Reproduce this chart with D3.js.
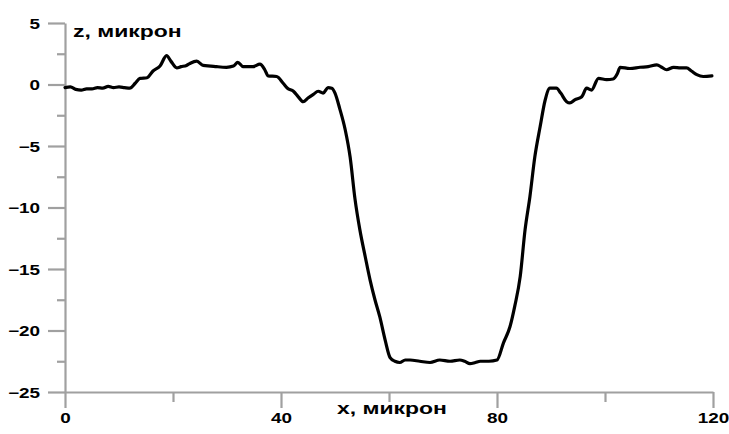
<!DOCTYPE html>
<html>
<head>
<meta charset="utf-8">
<script src="https://cdn.jsdelivr.net/npm/d3@7"></script>
<style>
  body { margin: 0; background: #fff; }
  svg { display: block; }
  text { font-family: "Liberation Sans", Arial, sans-serif; font-weight: bold; fill: #000; }
</style>
</head>
<body>
<div id="result"></div>
<script>
const width = 729;
const height = 434;

// profile: x (micron) and z (micron)
const xVals = [0, 1, 2, 3, 4, 5, 6, 7, 8, 9, 10, 11, 12, 13, 13.9, 15.2, 16.3, 17.6, 18.8, 19.6,
  20.7, 21.5, 22.5, 23.1, 24.4, 25.6, 27, 28.1, 29.9, 31.2, 32, 33, 34.8, 36.1, 37, 37.6, 39.2,
  40.4, 41.2, 42.3, 43.2, 44.1, 45, 46, 46.9, 47.8, 48.7, 49.4, 50, 50.9, 51.9, 52.8, 53.7, 54.6,
  55.6, 56.5, 57.4, 58.3, 59.3, 60.2, 61.1, 62, 63, 63.9, 65.7, 67.6, 69.4, 71.3, 73.1, 74, 75,
  76, 76.9, 78.5, 80, 81.2, 82.4, 83.3, 84.3, 85.2, 86.1, 87, 88, 88.9, 89.8, 91, 91.8, 92.9,
  93.5, 94.4, 95.7, 96.6, 97.5, 98.8, 100.3, 101.5, 102.3, 102.8, 104.6, 106.5, 108, 109.6,
  110.5, 111.4, 112.7, 114, 115.1, 116, 117, 118.2, 119.8];
const zVals = [-0.25, -0.2, -0.4, -0.45, -0.35, -0.35, -0.25, -0.3, -0.15, -0.25, -0.2, -0.25, -0.3,
  0.1, 0.5, 0.55, 1.1, 1.5, 2.35, 1.9, 1.35, 1.45, 1.55, 1.7, 1.9, 1.55, 1.5, 1.45, 1.4, 1.5,
  1.8, 1.45, 1.45, 1.65, 1.2, 0.7, 0.65, 0.1, -0.3, -0.55, -1.0, -1.4, -1.1, -0.8, -0.55, -0.7,
  -0.25, -0.3, -0.7, -2.0, -3.7, -5.9, -9.3, -11.8, -14, -15.9, -17.5, -18.9, -20.8, -22.2,
  -22.5, -22.6, -22.4, -22.4, -22.5, -22.6, -22.4, -22.5, -22.4, -22.5, -22.7, -22.6, -22.5,
  -22.5, -22.4, -21, -19.7, -18, -15.6, -11.8, -9.1, -5.9, -3.4, -1.3, -0.3, -0.3, -0.7, -1.4,
  -1.5, -1.25, -1.0, -0.3, -0.45, 0.5, 0.4, 0.45, 0.9, 1.4, 1.3, 1.4, 1.45, 1.6, 1.4, 1.2, 1.4,
  1.35, 1.35, 1.1, 0.8, 0.65, 0.7];

const xMajor = [0, 40, 80, 120];
const xMinor = [20, 60, 100];
const yMajor = [5, 0, -5, -10, -15, -20, -25];
const yMinor = [2.5, -2.5, -7.5, -12.5, -17.5, -22.5];
const xLabel = 'x, микрон';
const yLabel = 'z, микрон';

const axisColor = '#a0a0a0';
const stretch = 1.35; // the picture's text is wide

const svg = d3.select('#result')
  .append('svg')
  .attr('width', width)
  .attr('height', height);

const xScale = d3.scaleLinear().domain([0, 120]).range([65, 713]);
const yScale = d3.scaleLinear().domain([-25, 5]).range([392, 23]);

// y axis, major and minor ticks
const yAxisG = svg.append('g')
  .attr('transform', `translate(${xScale(0)},0)`)
  .call(d3.axisLeft(yScale).tickValues(yMajor).tickSize(17).tickSizeOuter(0).tickFormat(d3.format('d')));
svg.append('g')
  .attr('transform', `translate(${xScale(0)},0)`)
  .call(d3.axisLeft(yScale).tickValues(yMinor).tickSize(8).tickFormat(''))
  .select('.domain').remove();

// x axis at the bottom of the frame
const xAxisG = svg.append('g')
  .attr('transform', `translate(0,${yScale(-25)})`)
  .call(d3.axisBottom(xScale).tickValues(xMajor).tickSize(16).tickSizeOuter(0).tickFormat(d3.format('d')));
svg.append('g')
  .attr('transform', `translate(0,${yScale(-25)})`)
  .call(d3.axisBottom(xScale).tickValues(xMinor).tickSize(10).tickFormat(''))
  .select('.domain').remove();

svg.selectAll('.domain, .tick line')
  .attr('stroke', axisColor)
  .attr('stroke-width', 2.2);

// tick labels
yAxisG.selectAll('.tick text')
  .attr('x', null)
  .attr('dy', null)
  .attr('text-anchor', 'end')
  .attr('font-size', 14)
  .attr('font-family', null)
  .attr('transform', `translate(-25,5) scale(${stretch},1)`);

xAxisG.selectAll('.tick text')
  .attr('y', null)
  .attr('dy', null)
  .attr('text-anchor', 'middle')
  .attr('font-size', 14)
  .attr('font-family', null)
  .attr('transform', `translate(0,31) scale(${stretch},1)`);

// axis titles
svg.append('text')
  .attr('transform', `translate(73,37) scale(${stretch},1)`)
  .attr('font-size', 17)
  .text(yLabel);

svg.append('text')
  .attr('transform', `translate(392,414) scale(${stretch},1)`)
  .attr('text-anchor', 'middle')
  .attr('font-size', 17)
  .text(xLabel);

// the profile
const line = d3.line()
  .x(d => xScale(d[0]))
  .y(d => yScale(d[1]))
  .curve(d3.curveMonotoneX);

svg.append('path')
  .datum(d3.zip(xVals, zVals))
  .attr('fill', 'none')
  .attr('stroke', '#000')
  .attr('stroke-width', 3.2)
  .attr('stroke-linejoin', 'round')
  .attr('stroke-linecap', 'round')
  .attr('d', line);
</script>
</body>
</html>
